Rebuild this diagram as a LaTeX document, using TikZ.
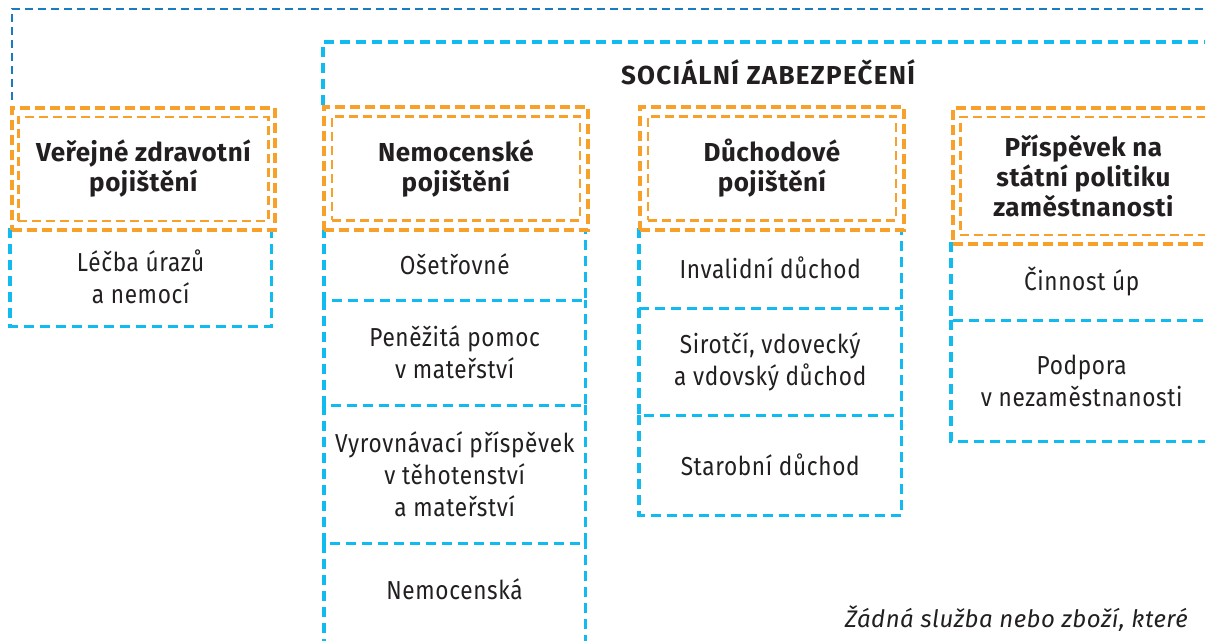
\documentclass[tikz,border=0pt]{standalone}
\usepackage{fontspec}
\setmainfont{Fira Sans}[LetterSpace=2.5, FakeStretch=0.87]
\newfontfamily\hdfont{Fira Sans}[LetterSpace=2]
\newfontfamily\titlefont{Fira Sans}[LetterSpace=5]
\definecolor{orng}{HTML}{F7A12A}
\definecolor{lblue}{HTML}{12BBEF}
\definecolor{dblue}{HTML}{1B7BC0}
\definecolor{txt}{HTML}{231F20}
\begin{document}
\begin{tikzpicture}[x=1pt,y=-1pt,
  every node/.style={text=txt, font=\fontsize{26}{32}\selectfont, inner sep=0pt, align=center},
  orangeout/.style={draw=orng, line width=3.8pt, dash pattern=on 10pt off 5pt, anchor=north west},
  orangein/.style={draw=orng, line width=2.6pt, dash pattern=on 9pt off 5pt, font=\fontsize{26}{30}\selectfont\hdfont\bfseries},
  cell/.style={anchor=north west},
  cellline/.style={draw=lblue, line width=3.2pt, dash pattern=on 10pt off 6pt},
  outerline/.style={draw=dblue, line width=2.6pt, dash pattern=on 8pt off 5pt}
]
\clip (0,0) rectangle (1205,640);
% outer frames
\coordinate (d1) at (12,100);
\coordinate (d2) at (12,9);
\coordinate (d3) at (1220,9);
\draw[outerline] (d1) -- (d2) -- (d3);
\coordinate (f1) at (323,105);
\coordinate (f2) at (323,42);
\coordinate (f3) at (1220,42);
\draw[cellline] (f1) -- (f2) -- (f3);
\node[font=\fontsize{26}{30}\selectfont\titlefont\bfseries] (title) at (768,72) {SOCIÁLNÍ ZABEZPEČENÍ};

% column A
\node[cell, minimum width=261pt, minimum height=98pt] (a1) at (10,228) {Léčba úrazů\\a nemocí};
% column B
\node[cell, minimum width=261pt, minimum height=72pt] (b1) at (324,228) {Ošetřovné};
\node[cell, minimum width=261pt, minimum height=105pt] (b2) at (324,300) {Peněžitá pomoc\\v mateřství};
\node[cell, minimum width=261pt, minimum height=138pt] (b3) at (324,405) {Vyrovnávací příspěvek\\v těhotenství\\a mateřství};
\node[cell, minimum width=261pt, minimum height=120pt] (b4) at (324,543) {};
\node (b4t) at (454.5,589) {Nemocenská};
% column C
\node[cell, minimum width=262pt, minimum height=80pt] (c1) at (639,228) {Invalidní důchod};
\node[cell, minimum width=262pt, minimum height=107pt] (c2) at (639,308) {Sirotčí, vdovecký\\a vdovský důchod};
\node[cell, minimum width=262pt, minimum height=100pt] (c3) at (639,415) {Starobní důchod};
% column D
\node[cell, minimum width=261pt, minimum height=78pt] (e1) at (951,242) {Činnost úp};
\node[cell, minimum width=261pt, minimum height=121pt] (e2) at (951,320) {Podpora\\v nezaměstnanosti};

% cell borders (left, bottom, right of each cell)
\foreach \c in {a1,b1,b2,b3,b4,c1,c2,c3,e1,e2}
  \draw[cellline] (\c.north west) |- (\c.south east) -- (\c.north east);

% headers
\node[orangeout, minimum width=263pt, minimum height=122pt] (hA) at (10,106) {};
\node[orangein, minimum width=250pt, minimum height=104pt] (hAi) at (hA.center) {Veřejné zdravotní\\pojištění};
\node[orangeout, minimum width=264pt, minimum height=123pt] (hB) at (322,105) {};
\node[orangein, minimum width=248pt, minimum height=104pt] (hBi) at (hB.center) {Nemocenské\\pojištění};
\node[orangeout, minimum width=264pt, minimum height=123pt] (hC) at (638,105) {};
\node[orangein, minimum width=248pt, minimum height=104pt] (hCi) at (hC.center) {Důchodové\\pojištění};
\node[orangeout, minimum width=261pt, minimum height=136pt] (hD) at (951,106) {};
\node[orangein, minimum width=246pt, minimum height=118pt] (hDi) at (hD.center) {Příspěvek na\\státní politiku\\zaměstnanosti};

% footnote
\node[anchor=base east, font=\fontsize{24}{30}\selectfont\hdfont\itshape] (note) at (1188,627) {Žádná služba nebo zboží, které};
\end{tikzpicture}
\end{document}
